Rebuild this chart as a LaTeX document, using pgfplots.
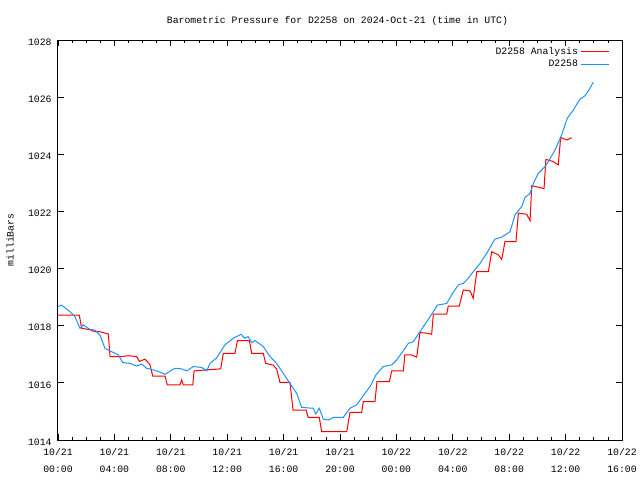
\documentclass[border=0pt]{standalone}
\usepackage{fontspec}
\setmainfont{Liberation Mono}
\usepackage{pgfplots}
\pgfplotsset{compat=1.18}
\definecolor{gblue}{RGB}{30,144,255}
\definecolor{gred}{RGB}{255,0,0}
\begin{document}
\fontsize{9.8}{11}\selectfont
\begin{tikzpicture}[x=1pt,y=1pt]
\useasboundingbox (-58,-40) rectangle (582,440);
\begin{axis}[
  at={(0,0)}, anchor=south west,
  scale only axis, width=564pt, height=400pt,
  xmin=0, xmax=40, ymin=1014, ymax=1028,
  xtick={0,4,...,40}, minor x tick num=3,
  ytick={1014,1016,...,1028},
  yticklabels={1014,1016,1018,1020,1022,1024,1026,1028},
  xticklabels={{10/21\\00:00},{10/21\\04:00},{10/21\\08:00},{10/21\\12:00},{10/21\\16:00},{10/21\\20:00},{10/22\\00:00},{10/22\\04:00},{10/22\\08:00},{10/22\\12:00},{10/22\\16:00}},
  xticklabel style={align=center, font=\fontsize{9.8}{16.5}\selectfont, yshift=-5pt},
  yticklabel style={font=\fontsize{9.8}{11}\selectfont, xshift=-3pt, yshift=-2pt},
  tick align=inside, major tick length=6pt, minor tick length=3pt,
  axis line style={line width=1pt},
  every tick/.style={black, line width=0.8pt},
  legend style={at={(rel axis cs:0.9775,0.9875)}, anchor=north east, draw=none, fill=none,
    inner sep=0pt, font=\fontsize{9.8}{11}\selectfont, row sep=0.5pt},
  legend image code/.code={\draw[#1] (0pt,0pt) -- (28pt,0pt);},
  legend plot pos=right, legend cell align=right,
]
\addlegendimage{draw=gred, line width=1.2pt}
\addlegendentry{D2258 Analysis}
\addlegendimage{draw=gblue, line width=1.2pt}
\addlegendentry{D2258}
\addplot[color=gred, line width=1pt, forget plot] coordinates {
(0,1018.37) (1.51,1018.37) (1.68,1017.91) (2.27,1017.86) (2.62,1017.79) (2.98,1017.79)
(3.57,1017.71) (3.69,1016.92) (4.52,1016.92) (4.96,1016.95) (5.58,1016.92) (5.77,1016.75)
(6.17,1016.83) (6.52,1016.64) (6.72,1016.24) (7.59,1016.24) (7.75,1015.93) (8.65,1015.93)
(8.77,1016.10) (8.89,1015.93) (9.56,1015.93) (9.65,1016.42) (11.54,1016.49) (11.72,1017.03)
(12.55,1017.03) (12.73,1017.48) (13.57,1017.48) (13.74,1017.03) (14.56,1017.03) (14.73,1016.68)
(15.27,1016.62) (15.51,1016.48) (15.74,1016.02) (16.45,1016.02) (16.67,1015.05) (17.59,1015.05)
(17.75,1014.79) (18.53,1014.79) (18.70,1014.29) (20.48,1014.29) (20.71,1014.97) (21.54,1014.97)
(21.65,1015.34) (22.48,1015.34) (22.62,1016.04) (23.50,1016.04) (23.67,1016.42) (24.49,1016.42)
(24.60,1016.98) (25.09,1016.98) (25.44,1016.90) (25.67,1017.76) (26.15,1017.74) (26.50,1017.70)
(26.62,1018.41) (27.57,1018.41) (27.68,1018.69) (28.46,1018.69) (28.74,1019.25) (29.22,1019.22)
(29.45,1018.96) (29.70,1019.89) (30.52,1019.89) (30.76,1020.59) (31.23,1020.48) (31.47,1020.32)
(31.70,1020.94) (32.48,1020.94) (32.65,1021.94) (33.24,1021.90) (33.48,1021.68) (33.60,1022.90)
(34.04,1022.85) (34.47,1022.80) (34.60,1023.82) (35.10,1023.75) (35.48,1023.63) (35.65,1024.59)
(36.08,1024.50) (36.43,1024.58)
};
\addplot[color=gblue, line width=1pt, forget plot] coordinates {
(0,1018.67) (0.26,1018.72) (0.85,1018.49) (1.20,1018.32) (1.56,1017.91) (1.79,1018.03)
(2.27,1017.87) (2.62,1017.85) (2.98,1017.67) (3.33,1017.21) (3.81,1017.09) (4.28,1016.98)
(4.59,1016.71) (5.11,1016.68) (5.58,1016.59) (5.94,1016.66) (6.29,1016.51) (7.00,1016.42)
(7.59,1016.30) (8.30,1016.51) (8.77,1016.49) (9.13,1016.42) (9.60,1016.57) (10.19,1016.54)
(10.55,1016.42) (10.78,1016.68) (11.26,1016.88) (11.84,1017.33) (12.43,1017.56) (12.98,1017.70)
(13.26,1017.56) (13.48,1017.62) (13.74,1017.41) (13.97,1017.48) (14.56,1017.27) (15.04,1016.92)
(15.51,1016.68) (15.98,1016.33) (16.45,1015.98) (16.93,1015.63) (17.28,1015.14) (18.11,1015.11)
(18.28,1014.91) (18.53,1015.11) (18.82,1014.73) (19.17,1014.70) (19.52,1014.79) (20.23,1014.79)
(20.71,1015.11) (21.18,1015.23) (21.65,1015.55) (22.13,1015.87) (22.55,1016.28) (23.07,1016.57)
(23.67,1016.63) (24.02,1016.80) (24.61,1017.21) (24.84,1017.38) (25.20,1017.44) (25.67,1017.79)
(26.15,1018.14) (26.62,1018.49) (26.90,1018.72) (27.57,1018.78) (27.92,1019.08) (28.39,1019.43)
(28.74,1019.48) (28.99,1019.60) (29.45,1019.89) (29.93,1020.18) (30.40,1020.53) (30.99,1021.03)
(31.47,1021.10) (32.06,1021.29) (32.41,1021.88) (32.89,1022.17) (33.12,1022.49) (33.48,1022.63)
(33.71,1022.98) (34.06,1023.33) (34.54,1023.57) (34.77,1023.74) (35.25,1024.15) (35.72,1024.68)
(36.12,1025.26) (36.55,1025.55) (37.02,1025.93) (37.38,1026.05) (37.73,1026.31) (37.96,1026.52)
};
\end{axis}
\node at (279.5,419.5) {Barometric Pressure for D2258 on 2024-Oct-21 (time in UTC)};
\node[rotate=90] at (-48,200) {milliBars};
\end{tikzpicture}
\end{document}
